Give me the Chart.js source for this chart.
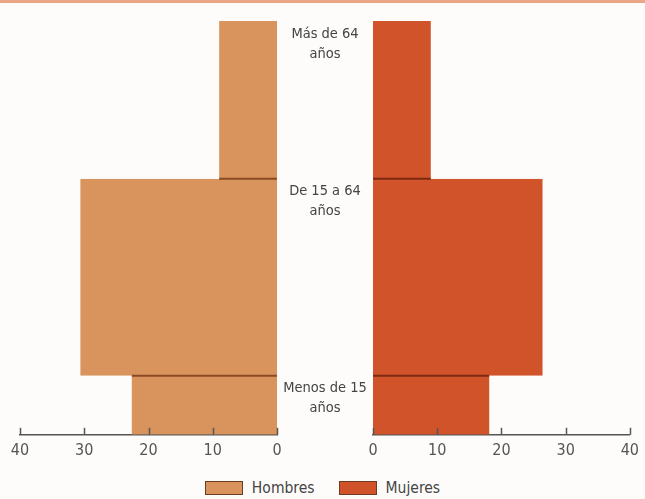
<!DOCTYPE html>
<html lang="es">
<head>
  <meta charset="UTF-8" />
  <title>Pirámide de población</title>
  <script src="https://cdn.jsdelivr.net/npm/chart.js"></script>
  <style>
    body { margin: 0; background: #fdfcfa; }
    .marco { position: relative; width: 645px; height: 499px; border-top: 3px solid #eba688; box-sizing: border-box; overflow: hidden; }
    #graficoHombres { position: absolute; left: 0; top: -3px; }
    #graficoMujeres { position: absolute; left: 277px; top: -3px; }
    .leyenda { position: absolute; left: 0; top: 476px; width: 645px; display: flex; justify-content: center; gap: 24px;
      font-family: 'DejaVu Sans Condensed', sans-serif; font-size: 15.5px; color: #444; }
    .leyenda span { display: flex; align-items: center; gap: 9px; }
    .leyenda i { display: inline-block; width: 36px; height: 12px; border: 1px solid #6b3b22; }
  </style>
</head>
<body>
  <div class="marco">
    <canvas id="graficoHombres" width="300" height="475"></canvas>
    <canvas id="graficoMujeres" width="368" height="475"></canvas>
    <div class="leyenda" id="leyenda"></div>
  </div>

  <script>
    const grupos = [['Menos de 15', 'años'], ['De 15 a 64', 'años'], ['Más de 64', 'años']];
    const limitesEdad = [0, 15, 65, 105];
    const hombres = [22.6, 30.6, 9.0];
    const mujeres = [18.1, 26.4, 9.0];
    const ticksPorcentaje = [0, 10, 20, 30, 40];

    const colorHombres = '#d9935c';
    const colorMujeres = '#d0532a';
    const fuente = "'DejaVu Sans Condensed', sans-serif";

    Chart.defaults.font.family = fuente;
    Chart.defaults.color = '#555';

    // cada tramo de edad es un rectangulo relleno hasta x = 0
    function crearDatasets(valores, color, colorLinea) {
      const ds = valores.map((v, i) => ({
        data: [{ x: v, y: limitesEdad[i] }, { x: v, y: limitesEdad[i + 1] }],
        backgroundColor: color,
        borderWidth: 0,
        pointRadius: 0,
        fill: 'origin'
      }));
      // linea oscura en el limite entre tramos, encima de los rellenos
      for (let i = 1; i < valores.length; i++) {
        ds.push({
          data: [{ x: 0, y: limitesEdad[i] }, { x: Math.min(valores[i - 1], valores[i]), y: limitesEdad[i] }],
          borderColor: colorLinea,
          borderWidth: 2,
          pointRadius: 0,
          fill: false,
          order: -1
        });
      }
      return ds;
    }

    // marcas cortas hacia arriba sobre el eje
    const marcasEje = {
      id: 'marcasEje',
      afterDatasetsDraw(chart) {
        const ctx = chart.ctx;
        const escala = chart.scales.x;
        ctx.save();
        ctx.strokeStyle = '#555';
        ctx.lineWidth = 1.5;
        ticksPorcentaje.forEach(t => {
          const px = Math.round(escala.getPixelForValue(t)) + 0.5;
          ctx.beginPath();
          ctx.moveTo(px, escala.top);
          ctx.lineTo(px, escala.top - 7);
          ctx.stroke();
        });
        ctx.restore();
      }
    };

    // etiquetas de los grupos entre las dos mitades
    const etiquetasGrupos = {
      id: 'etiquetasGrupos',
      afterDraw(chart) {
        const ctx = chart.ctx;
        const y = chart.scales.y;
        const cx = chart.chartArea.left / 2;
        ctx.save();
        ctx.fillStyle = '#444';
        ctx.font = '14.5px ' + fuente;
        ctx.textAlign = 'center';
        ctx.textBaseline = 'middle';
        grupos.forEach((lineas, i) => {
          const top = y.getPixelForValue(limitesEdad[i + 1]);
          lineas.forEach((txt, j) => ctx.fillText(txt, cx, top + 13 + j * 20));
        });
        ctx.restore();
      }
    };

    function opciones(invertido, padding) {
      return {
        responsive: false,
        animation: false,
        indexAxis: 'y',
        layout: { padding: padding },
        plugins: { legend: { display: false }, tooltip: { enabled: false } },
        scales: {
          x: {
            type: 'linear', min: 0, max: 40, reverse: invertido,
            afterBuildTicks: s => { s.ticks = ticksPorcentaje.map(v => ({ value: v })); },
            grid: { display: false, drawTicks: false },
            border: { color: '#555', width: 1.5 },
            ticks: { padding: 6, font: { size: 16 }, color: '#555' }
          },
          y: { type: 'linear', min: limitesEdad[0], max: limitesEdad[limitesEdad.length - 1], display: false }
        }
      };
    }

    new Chart(document.getElementById('graficoHombres'), {
      type: 'line',
      data: { datasets: crearDatasets(hombres, colorHombres, '#8a4a24') },
      options: opciones(true, { left: 20, right: 23, top: 21, bottom: 9 }),
      plugins: [marcasEje]
    });

    new Chart(document.getElementById('graficoMujeres'), {
      type: 'line',
      data: { datasets: crearDatasets(mujeres, colorMujeres, '#7c2812') },
      options: opciones(false, { left: 96, right: 15, top: 21, bottom: 9 }),
      plugins: [marcasEje, etiquetasGrupos]
    });

    document.getElementById('leyenda').innerHTML =
      `<span><i style="background:${colorHombres}"></i>Hombres</span>` +
      `<span><i style="background:${colorMujeres}"></i>Mujeres</span>`;
  </script>
</body>
</html>
